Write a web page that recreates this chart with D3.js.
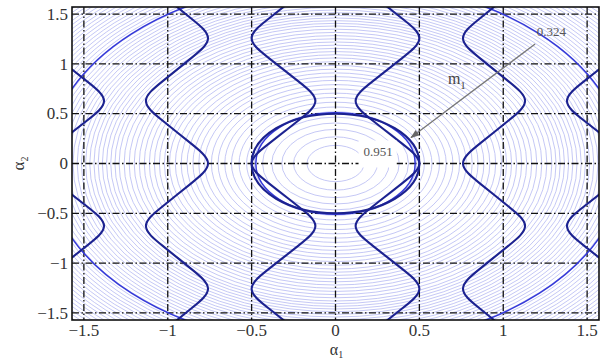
<!DOCTYPE html>
<html>
<head>
<meta charset="utf-8">
<script src="https://cdn.jsdelivr.net/npm/d3@7"></script>
<style>
  body { margin: 0; background: #fff; }
  text { font-family: "Liberation Serif", "Times New Roman", serif; }
</style>
</head>
<body>
<script>
// chart data (alpha1 / alpha2 plane, radians)

const ticks = [-1.5, -1, -0.5, 0, 0.5, 1, 1.5];
const tickLabels = ["\u22121.5", "\u22121", "\u22120.5", "0", "0.5", "1", "1.5"];

// contour rings around the origin: x semi-axis, y semi-axis = ringAspect * r
const ringRadii = [
  0.17, 0.25, 0.32, 0.38, 0.435, 0.485, 0.53, 0.575, 0.62, 0.66, 0.70, 0.74,
  0.78, 0.815, 0.85, 0.885, 0.92, 0.955, 0.99, 1.02, 1.05, 1.08, 1.11, 1.14,
  1.17, 1.20, 1.23, 1.26, 1.29, 1.315, 1.34, 1.365, 1.39, 1.415, 1.44, 1.465,
  1.49, 1.515, 1.54, 1.565, 1.59, 1.615, 1.64, 1.665, 1.69, 1.715, 1.74, 1.765,
  1.79, 1.815, 1.84, 1.865, 1.89, 1.915, 1.94, 1.965, 1.99, 2.015, 2.04, 2.065,
  2.09, 2.115, 2.14, 2.165, 2.19, 2.215, 2.24
];
const ringAspect = 1.07;

// highlighted contour levels
const levelLabels = ["0.324", "0.951"];
const levelRadii = [1.72, 0.475];

// zig-zag boundary curves
const zigLeft  = [-1.76, -1.13, -0.50, 0.12, 0.76, 1.38];
const zigRight = [-1.38, -0.76, -0.12, 0.50, 1.13, 1.76];
const zigLeftAtZero = [true, false, true, false, true, false];
const zigKnots = [-1.885, -1.257, -0.628, 0, 0.628, 1.257, 1.885];

// closed boundary around the origin
const ovalRadius = 0.5;

// annotation (data units)
const arrowFrom = [1.19, 1.2];
const arrowTo = [0.45, 0.26];
const label324At = [1.2, 1.28];
const labelM1At = [0.67, 0.8];
const label951At = [0.167, 0.08];

// ---------------------------------------------------------------

const W = 603, H = 360;
const L = 72, R = 599, T = 7, B = 320;

const x = d3.scaleLinear().domain([-Math.PI / 2, Math.PI / 2]).range([L, R]);
const y = d3.scaleLinear().domain([-Math.PI / 2, Math.PI / 2]).range([B, T]);

const svg = d3.select("body").append("svg")
    .attr("width", W)
    .attr("height", H);

const defs = svg.append("defs");
defs.append("clipPath").attr("id", "plot")
  .append("rect")
    .attr("x", L).attr("y", T)
    .attr("width", R - L).attr("height", B - T);

defs.append("marker")
    .attr("id", "head")
    .attr("viewBox", "0 0 10 10")
    .attr("refX", 9).attr("refY", 5)
    .attr("markerWidth", 7).attr("markerHeight", 7)
    .attr("orient", "auto")
  .append("path")
    .attr("d", "M0,1.5 L10,5 L0,8.5 Z")
    .attr("fill", "#666");

const plot = svg.append("g").attr("clip-path", "url(#plot)");

// light contour rings
plot.append("g").selectAll("ellipse")
  .data(ringRadii)
  .join("ellipse")
    .attr("cx", x(0))
    .attr("cy", y(0))
    .attr("rx", d => x(d) - x(0))
    .attr("ry", d => y(0) - y(d * ringAspect))
    .attr("fill", "none")
    .attr("stroke", "#b2b6f2")
    .attr("stroke-width", 0.75);

// grid (dash-dot)
const grid = plot.append("g")
    .attr("stroke", "#111")
    .attr("stroke-width", 1.3)
    .attr("stroke-dasharray", "7,2.5,1.5,2.5");

grid.selectAll(".gx")
  .data(ticks)
  .join("line")
    .attr("class", "gx")
    .attr("x1", d => x(d)).attr("x2", d => x(d))
    .attr("y1", T).attr("y2", B);

grid.selectAll(".gy")
  .data(ticks)
  .join("line")
    .attr("class", "gy")
    .attr("y1", d => y(d)).attr("y2", d => y(d))
    .attr("x1", L).attr("x2", R);

// highlighted level contours (medium blue)
plot.append("g").selectAll("ellipse")
  .data(levelRadii)
  .join("ellipse")
    .attr("cx", x(0))
    .attr("cy", y(0))
    .attr("rx", d => x(d) - x(0))
    .attr("ry", d => y(0) - y(d * ringAspect))
    .attr("fill", "none")
    .attr("stroke", "#3438d8")
    .attr("stroke-width", 1.5);

// zig-zag curves; basis spline rounds the corners, control extremes are
// pushed out so the drawn curve still reaches the read extremes
const f = 0.3;
function zigPoints(i) {
  const w = zigRight[i] - zigLeft[i];
  const d = f * w / (3 - 2 * f);
  const knots = zigKnots.map((k, j) => {
    const even = (j - 3) % 2 === 0;
    const atLeft = even ? zigLeftAtZero[i] : !zigLeftAtZero[i];
    return [atLeft ? zigLeft[i] - d : zigRight[i] + d, k];
  });
  const pts = [];
  knots.forEach((p, j) => {
    if (j > 0) {
      const q = knots[j - 1];
      pts.push([q[0] + (p[0] - q[0]) * f, q[1] + (p[1] - q[1]) * f]);
      pts.push([q[0] + (p[0] - q[0]) * (1 - f), q[1] + (p[1] - q[1]) * (1 - f)]);
    }
    pts.push(p);
  });
  return pts;
}

const zigLine = d3.line()
    .x(d => x(d[0]))
    .y(d => y(d[1]))
    .curve(d3.curveBasis);

plot.append("g").selectAll("path")
  .data(zigLeft.map((_, i) => zigPoints(i)))
  .join("path")
    .attr("d", zigLine)
    .attr("fill", "none")
    .attr("stroke", "#1c2290")
    .attr("stroke-width", 2.1);

plot.append("ellipse")
    .attr("cx", x(0))
    .attr("cy", y(0))
    .attr("rx", x(ovalRadius) - x(0))
    .attr("ry", y(0) - y(ovalRadius))
    .attr("fill", "none")
    .attr("stroke", "#1c2290")
    .attr("stroke-width", 2.1);

// frame
svg.append("rect")
    .attr("x", L).attr("y", T)
    .attr("width", R - L).attr("height", B - T)
    .attr("fill", "none")
    .attr("stroke", "#111")
    .attr("stroke-width", 1.6);

// tick labels
svg.append("g").selectAll("text")
  .data(ticks)
  .join("text")
    .attr("x", 68)
    .attr("y", d => y(d))
    .attr("dy", "0.34em")
    .attr("text-anchor", "end")
    .attr("font-size", 17)
    .attr("fill", "#333")
    .text((d, i) => tickLabels[i]);

svg.append("g").selectAll("text")
  .data(ticks)
  .join("text")
    .attr("x", d => x(d))
    .attr("y", 336)
    .attr("text-anchor", "middle")
    .attr("font-size", 17)
    .attr("fill", "#333")
    .text((d, i) => tickLabels[i]);

// axis titles
const xt = svg.append("text")
    .attr("x", x(0) + 1)
    .attr("y", 355)
    .attr("text-anchor", "middle")
    .attr("font-size", 16)
    .attr("fill", "#333");
xt.append("tspan").text("\u03b1");
xt.append("tspan").attr("font-size", 10).attr("dy", 3).text("1");

const yt = svg.append("text")
    .attr("transform", `translate(24,${y(0)}) rotate(-90)`)
    .attr("text-anchor", "middle")
    .attr("font-size", 17)
    .attr("fill", "#333");
yt.append("tspan").text("\u03b1");
yt.append("tspan").attr("font-size", 10).attr("dy", 4).text("2");

// annotations
svg.append("line")
    .attr("x1", x(arrowFrom[0])).attr("y1", y(arrowFrom[1]))
    .attr("x2", x(arrowTo[0])).attr("y2", y(arrowTo[1]))
    .attr("stroke", "#777")
    .attr("stroke-width", 1.3)
    .attr("marker-end", "url(#head)");

svg.append("text")
    .attr("x", x(label324At[0])).attr("y", y(label324At[1]))
    .attr("font-size", 13)
    .attr("fill", "#555")
    .text(levelLabels[0]);

const m1 = svg.append("text")
    .attr("x", x(labelM1At[0])).attr("y", y(labelM1At[1]))
    .attr("font-size", 16)
    .attr("fill", "#444");
m1.append("tspan").text("m");
m1.append("tspan").attr("font-size", 11).attr("dy", 5).text("1");

const boxG = svg.append("g");
const t951 = svg.append("text")
    .attr("x", x(label951At[0])).attr("y", y(label951At[1]))
    .attr("font-size", 13)
    .attr("fill", "#555")
    .text(levelLabels[1]);
const bb = t951.node().getBBox();
boxG.append("rect")
    .attr("x", bb.x - 5).attr("y", bb.y - 3)
    .attr("width", bb.width + 9).attr("height", bb.height + 12)
    .attr("fill", "#fff");
</script>
</body>
</html>
